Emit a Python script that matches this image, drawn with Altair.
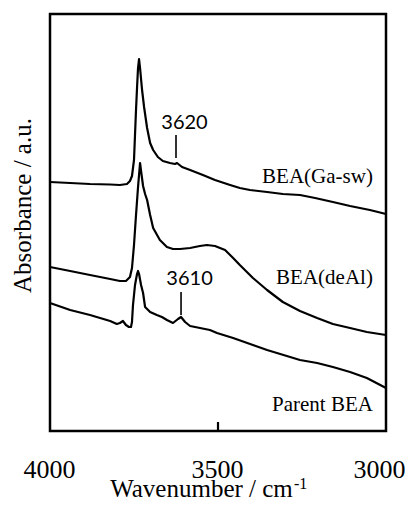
import altair as alt
import pandas as pd

# ---- data (wavenumber / cm-1, absorbance in a.u. with offsets) ----
ga_wn = [4000, 3940, 3881, 3821, 3792, 3771, 3762, 3756, 3750, 3747, 3744, 3741, 3738, 3735,
         3732, 3726, 3720, 3711, 3702, 3693, 3679, 3664, 3643, 3628, 3622, 3607, 3583, 3545,
         3509, 3464, 3435, 3405, 3354, 3307, 3256, 3211, 3158, 3107, 3048, 3000]
ga_ab = [2.49, 2.48, 2.47, 2.465, 2.46, 2.47, 2.50, 2.55, 2.71, 2.96, 3.21, 3.43, 3.63, 3.72,
         3.63, 3.41, 3.24, 3.03, 2.88, 2.81, 2.74, 2.70, 2.68, 2.67, 2.68, 2.64, 2.61, 2.56,
         2.51, 2.46, 2.43, 2.41, 2.39, 2.37, 2.36, 2.33, 2.29, 2.25, 2.21, 2.17]

de_wn = [4000, 3940, 3881, 3821, 3792, 3774, 3762, 3756, 3750, 3744, 3738, 3732, 3729, 3723,
         3717, 3711, 3702, 3693, 3673, 3652, 3634, 3613, 3583, 3554, 3533, 3509, 3479, 3455,
         3435, 3396, 3354, 3307, 3256, 3205, 3158, 3107, 3057, 3000]
de_ab = [1.64, 1.60, 1.56, 1.52, 1.50, 1.50, 1.54, 1.63, 1.86, 2.16, 2.44, 2.68, 2.60, 2.45,
         2.37, 2.31, 2.16, 2.03, 1.91, 1.84, 1.82, 1.82, 1.83, 1.85, 1.86, 1.85, 1.81, 1.73,
         1.66, 1.53, 1.41, 1.29, 1.20, 1.13, 1.07, 1.03, 0.99, 0.96]

pa_wn = [4000, 3940, 3881, 3851, 3821, 3801, 3792, 3783, 3774, 3765, 3759, 3756, 3753, 3747,
         3741, 3738, 3735, 3729, 3723, 3717, 3702, 3682, 3667, 3652, 3634, 3619, 3610, 3598,
         3583, 3524, 3503, 3455, 3354, 3256, 3205, 3158, 3107, 3057, 3000]
pa_ab = [1.28, 1.21, 1.16, 1.13, 1.10, 1.07, 1.08, 1.10, 1.06, 1.04, 1.04, 1.09, 1.26, 1.46,
         1.57, 1.60, 1.57, 1.46, 1.38, 1.24, 1.19, 1.16, 1.14, 1.11, 1.08, 1.12, 1.14, 1.09,
         1.05, 1.01, 0.98, 0.93, 0.81, 0.71, 0.68, 0.64, 0.59, 0.53, 0.43]

series_names = ["BEA(Ga-sw)", "BEA(deAl)", "Parent BEA"]
label_wn = [3039, 3039, 3039]
label_ab = [2.54, 1.53, 0.26]

peak_text = ["3620", "3610"]
peak_wn = [3625, 3610]
peak_lo = [2.73, 1.16]
peak_hi = [2.96, 1.39]
peak_txt_ab = [3.08, 1.52]

x_ticks = [4000, 3500, 3000]

# ---- tables ----
rows = []
for name, wn, ab in zip(series_names, [ga_wn, de_wn, pa_wn], [ga_ab, de_ab, pa_ab]):
    for i, (w, a) in enumerate(zip(wn, ab)):
        rows.append({"series": name, "wn": w, "ab": a, "i": i})
spec = pd.DataFrame(rows)
labels = pd.DataFrame({"name": series_names, "wn": label_wn, "ab": label_ab})
peaks = pd.DataFrame({"t": peak_text, "wn": peak_wn, "lo": peak_lo, "hi": peak_hi, "ta": peak_txt_ab})

serif = "Liberation Serif"

xscale = alt.Scale(domain=[3000, 4000], reverse=True, nice=False, zero=False)
yscale = alt.Scale(domain=[0, 4.17], nice=False, zero=False)

xaxis = alt.Axis(values=x_ticks, format="d", labelFont=serif, labelFontSize=26, labelColor="black",
                 labelFlush=False, ticks=False, tickSize=0, domain=False, grid=False,
                 labelBaseline="alphabetic", labelPadding=46,
                 labelOffset={"condition": {"test": "datum.value == 3000", "value": -7}, "value": -1},
                 title="Wavenumber / cm", titleFont=serif, titleFontSize=25, titleFontWeight="normal",
                 titleColor="black", titleX=151, titleY=65, titleBaseline="alphabetic")
yaxis = alt.Axis(title="Absorbance / a.u.", labels=False, ticks=False, tickSize=0, domain=False, grid=False,
                 titleFont=serif, titleFontSize=25, titleFontWeight="normal", titleColor="black",
                 titleX=-28, titleY=191, titleBaseline="middle", titleAngle=270)

lines = alt.Chart(spec).mark_line(color="black", strokeWidth=2.2, strokeJoin="round").encode(
    x=alt.X("wn:Q", scale=xscale, axis=xaxis),
    y=alt.Y("ab:Q", scale=yscale, axis=yaxis),
    detail="series:N",
    order="i:Q",
)

name_text = alt.Chart(labels).mark_text(font=serif, fontSize=21, align="right", baseline="middle",
                                        color="black").encode(
    x=alt.X("wn:Q", scale=xscale), y=alt.Y("ab:Q", scale=yscale), text="name:N")

peak_rules = alt.Chart(peaks).mark_rule(color="black", strokeWidth=1.6).encode(
    x=alt.X("wn:Q", scale=xscale), y=alt.Y("lo:Q", scale=yscale), y2="hi:Q")

peak_labels = alt.Chart(peaks).mark_text(font="Lato", fontSize=20, align="center", baseline="middle",
                                         dx=8.5, color="black").encode(
    x=alt.X("wn:Q", scale=xscale), y=alt.Y("ta:Q", scale=yscale), text="t:N")

tick_in = alt.Chart(pd.DataFrame({"wn": [3500]})).mark_rule(color="black", strokeWidth=2.2).encode(
    x=alt.X("wn:Q", scale=xscale), y=alt.value(417), y2=alt.value(408))

sup = alt.Chart(pd.DataFrame({"s": ["-1"]})).mark_text(font=serif, fontSize=16, align="left",
                                                       baseline="alphabetic", color="black").encode(
    x=alt.value(244), y=alt.value(475), text="s:N")

chart = alt.layer(lines, name_text, peak_rules, peak_labels, tick_in, sup).properties(
    width=336, height=417,
    autosize=alt.AutoSizeParams(type="none"),
    padding={"left": 42, "top": 6, "right": 19, "bottom": 70},
).configure_view(stroke="black", strokeWidth=2.5)

chart.save("out.html", embed_options={"renderer": "svg", "actions": False})
